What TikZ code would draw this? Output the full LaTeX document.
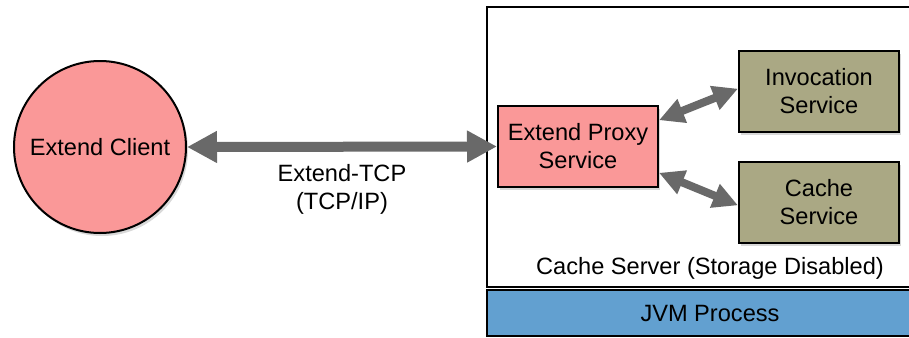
\documentclass[tikz,border=0pt]{standalone}
\usepackage{fontspec}
\setmainfont{Liberation Sans}
\usetikzlibrary{arrows.meta,positioning,shadows}
\definecolor{proxypink}{RGB}{250,152,152}
\definecolor{serviceolive}{RGB}{170,168,132}
\definecolor{jvmblue}{RGB}{98,160,208}
\definecolor{linkgray}{RGB}{105,105,105}

\begin{document}
\begin{tikzpicture}[x=0.5pt,y=-0.5pt,
font=\fontsize{11.8}{14}\selectfont,
shade/.style={drop shadow={opacity=0.3,shadow xshift=1pt,shadow yshift=-1.5pt}},
block/.style={draw=black,line width=1pt,align=center,minimum width=80pt,minimum height=40.5pt,inner sep=2pt,shade},
proxy/.style={block,fill=proxypink},
service/.style={block,fill=serviceolive},
link/.style={{Triangle[length=15pt,width=15pt]}-{Triangle[length=15pt,width=15pt]},line width=5pt,draw=linkgray},
sublink/.style={{Triangle[length=12.5pt,width=12pt]}-{Triangle[length=12.5pt,width=12pt]},line width=4pt,draw=linkgray}]
\useasboundingbox (0,0) rectangle (909,337);
\node[draw=black,line width=1pt,fill=white,minimum width=223pt,minimum height=140pt] (server) at (710,147) {};
\node[draw=black,line width=1pt,fill=jvmblue,minimum width=223pt,minimum height=23pt] (jvm) at (710,313) {JVM Process};
\node[above=1pt of server.south] (serverlabel) {Cache Server (Storage Disabled)};
\node[circle,draw=black,line width=1pt,fill=proxypink,minimum size=86pt,inner sep=0pt,shade] (client) at (100,147) {Extend Client};
\node[proxy] (proxy) at (578,146.5) {Extend Proxy\\Service};
\node[service] (invocation) at (819,91.5) {Invocation\\Service};
\node[service] (cache) at (819,202.5) {Cache\\Service};
\draw[link] (client.east)--(proxy.west) node[midway,below=3pt,align=center] (tcp) {Extend-TCP\\(TCP/IP)};
\draw[sublink] (proxy.18)--(invocation.178);
\draw[sublink] (proxy.-18)--(cache.182);
\end{tikzpicture}
\end{document}
